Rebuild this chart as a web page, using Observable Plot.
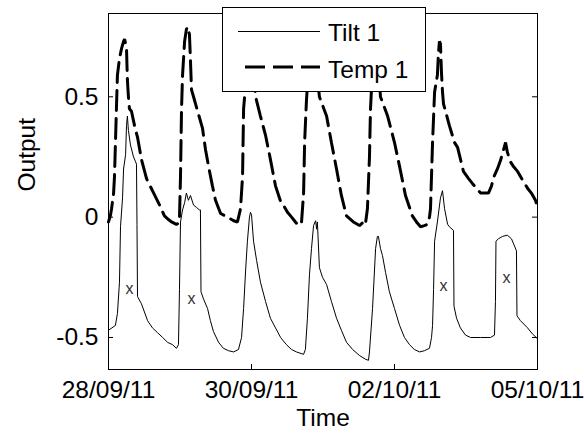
<!DOCTYPE html>
<html>
<head>
<meta charset="utf-8">
<script src="https://cdn.jsdelivr.net/npm/d3@7"></script>
<script src="https://cdn.jsdelivr.net/npm/@observablehq/plot@0.6"></script>
<style>
  html, body { margin: 0; padding: 0; background: white; }
  svg { display: block; }
</style>
</head>
<body>
<div id="chart"></div>
<script>
// Time axis: hours since 28/09/11 00:00
const startDate = Date.UTC(2011, 8, 28);
const spanDays = 7;
const xTickDays = [0, 7 / 3, 14 / 3, 7];          // 28/09/11, 30/09/11, 02/10/11, 05/10/11
const yTickValues = [-0.5, 0, 0.5];
const yDomain = [-0.633, 0.846];
const seriesNames = ["Tilt 1", "Temp 1"];

// Tilt 1 (solid)
const tiltHours = [0, 2.7, 3.5, 4.3, 4.7, 5.5, 5.9, 6.7, 7.05, 7.4, 7.8, 8.6, 9.8, 10.6, 10.96, 11.16, 11.36, 12.9, 15.3, 17.2, 19.2, 21.2, 23.1, 25.1, 26.6, 27.4, 27.8, 28.2, 29.0, 29.8, 30.5, 31.3, 32.1, 33.3, 34.5, 35.6, 36.0, 36.22, 37.2, 38.8, 39.9, 41.1, 43.1, 45.0, 47.0, 49.0, 50.9, 52.1, 52.9, 53.7, 54.4, 55.2, 55.6, 56.0, 56.8, 58.0, 59.5, 61.5, 63.4, 65.4, 67.4, 69.7, 71.7, 73.6, 76.4, 77.1, 77.9, 78.7, 79.5, 80.3, 81.1, 81.5, 81.8, 82.6, 83.8, 85.4, 87.3, 89.3, 91.2, 93.2, 95.6, 98.3, 100.6, 101.8, 102.2, 103.4, 104.6, 105.3, 105.7, 106.5, 107.3, 108.5, 110.0, 112.0, 114.0, 115.9, 117.9, 119.8, 121.8, 123.7, 125.7, 126.5, 126.9, 127.3, 127.7, 128.8, 130.0, 130.8, 131.6, 132.8, 133.5, 135.1, 135.3, 136.3, 137.8, 139.8, 141.8, 145.7, 149.6, 151.15, 151.54, 151.74, 152.7, 154.3, 156.2, 157.8, 159.0, 159.76, 159.96, 161.3, 164.1, 166.0, 168.0];
const tiltValues = [-0.47, -0.45, -0.40, -0.27, -0.04, 0.08, 0.20, 0.26, 0.38, 0.42, 0.36, 0.30, 0.25, 0.23, 0.22, -0.03, -0.33, -0.36, -0.43, -0.46, -0.48, -0.50, -0.52, -0.53, -0.545, -0.53, -0.30, -0.02, 0.03, 0.06, 0.10, 0.07, 0.09, 0.05, 0.04, 0.03, 0.03, -0.31, -0.34, -0.38, -0.43, -0.475, -0.52, -0.545, -0.555, -0.56, -0.55, -0.50, -0.38, -0.22, -0.10, 0.00, 0.02, 0.01, -0.10, -0.18, -0.27, -0.35, -0.42, -0.46, -0.50, -0.53, -0.55, -0.56, -0.57, -0.55, -0.42, -0.24, -0.13, -0.035, -0.015, -0.05, -0.02, -0.21, -0.25, -0.28, -0.35, -0.42, -0.47, -0.52, -0.55, -0.575, -0.59, -0.595, -0.56, -0.38, -0.13, -0.08, -0.08, -0.13, -0.16, -0.23, -0.31, -0.38, -0.45, -0.50, -0.53, -0.55, -0.56, -0.555, -0.545, -0.50, -0.45, -0.30, -0.10, -0.02, 0.08, 0.11, 0.035, -0.03, -0.04, -0.055, -0.37, -0.42, -0.46, -0.49, -0.50, -0.50, -0.50, -0.49, -0.35, -0.10, -0.09, -0.08, -0.075, -0.09, -0.12, -0.14, -0.41, -0.43, -0.46, -0.485, -0.505];

// Temp 1 (dashed)
const tempHours = [0, 0.8, 1.2, 2.0, 2.35, 2.7, 3.1, 3.5, 4.3, 5.1, 5.9, 6.3, 6.7, 7.05, 7.4, 7.8, 8.2, 9.0, 10.2, 11.4, 12.9, 14.9, 17.2, 20.0, 21.9, 23.5, 24.7, 26.6, 27.4, 27.8, 28.2, 28.6, 29.0, 29.8, 30.5, 30.9, 31.7, 32.1, 32.5, 33.3, 34.9, 36.8, 38.0, 39.2, 40.7, 41.9, 43.9, 46.6, 49.0, 50.5, 51.7, 52.5, 52.9, 53.7, 54.4, 55.2, 56.0, 56.8, 57.6, 59.5, 61.5, 63.4, 65.4, 67.4, 68.5, 70.1, 71.7, 73.2, 74.4, 75.6, 76.4, 76.8, 77.5, 78.3, 79.1, 79.9, 80.7, 81.5, 82.6, 85.4, 87.3, 89.3, 91.2, 93.2, 95.9, 98.3, 99.9, 100.6, 101.4, 102.2, 102.6, 103.4, 104.2, 104.9, 105.7, 106.5, 109.3, 112.0, 114.0, 116.3, 119.0, 120.6, 122.2, 123.7, 124.9, 125.7, 126.1, 126.9, 127.7, 128.8, 129.2, 129.6, 130.0, 130.4, 130.8, 131.2, 132.0, 133.5, 135.5, 136.7, 139.0, 141.0, 142.5, 144.1, 145.7, 147.2, 148.8, 150.0, 150.8, 152.3, 153.5, 154.7, 155.5, 156.2, 157.4, 158.6, 160.2, 162.1, 164.1, 165.6, 167.2, 168.0];
const tempValues = [-0.02, 0.01, 0.035, 0.10, 0.17, 0.30, 0.45, 0.59, 0.66, 0.70, 0.73, 0.74, 0.72, 0.70, 0.57, 0.50, 0.45, 0.44, 0.38, 0.33, 0.24, 0.16, 0.11, 0.05, 0.005, -0.01, -0.02, -0.03, -0.025, 0.00, 0.17, 0.45, 0.59, 0.73, 0.78, 0.79, 0.76, 0.65, 0.53, 0.50, 0.44, 0.37, 0.28, 0.21, 0.13, 0.07, 0.015, 0.00, -0.015, -0.02, 0.035, 0.17, 0.45, 0.55, 0.68, 0.74, 0.72, 0.62, 0.50, 0.42, 0.34, 0.24, 0.13, 0.065, 0.05, 0.02, 0.00, -0.02, -0.035, -0.02, 0.10, 0.31, 0.48, 0.62, 0.72, 0.74, 0.70, 0.62, 0.50, 0.42, 0.31, 0.20, 0.09, 0.005, -0.02, -0.035, -0.02, -0.03, 0.035, 0.25, 0.45, 0.62, 0.72, 0.74, 0.65, 0.50, 0.42, 0.31, 0.21, 0.09, 0.005, -0.02, -0.04, -0.035, -0.03, 0.00, 0.035, 0.31, 0.52, 0.59, 0.68, 0.73, 0.72, 0.60, 0.52, 0.47, 0.44, 0.38, 0.31, 0.29, 0.19, 0.16, 0.14, 0.12, 0.10, 0.10, 0.10, 0.13, 0.165, 0.20, 0.235, 0.28, 0.31, 0.27, 0.23, 0.21, 0.19, 0.155, 0.12, 0.10, 0.07, 0.04];

// "x" annotations
const markHours = [8.2, 32.5, 131.2, 155.9];
const markValues = [-0.297, -0.338, -0.284, -0.251];
const markText = "x";

const toDate = h => new Date(startDate + h * 3600000);
const tilt = tiltHours.map((h, i) => ({t: toDate(h), v: tiltValues[i]}));
const temp = tempHours.map((h, i) => ({t: toDate(h), v: tempValues[i]}));
const marks = markHours.map((h, i) => ({t: toDate(h), v: markValues[i]}));
const xTicks = xTickDays.map(d => new Date(startDate + d * 86400000));

const FONT = "'Liberation Sans', Arial, Helvetica, sans-serif";
const W = 584, H = 435;
const mL = 108, mR = 47, mT = 13, mB = 66;
const plotW = W - mL - mR, plotH = H - mT - mB;

const svg = Plot.plot({
  width: W, height: H,
  marginLeft: mL, marginRight: mR, marginTop: mT, marginBottom: mB,
  style: {fontFamily: FONT, fontSize: "24.5px", background: "white", color: "black"},
  x: {type: "utc", domain: [new Date(startDate), new Date(startDate + spanDays * 86400000)]},
  y: {domain: yDomain},
  marks: [
    Plot.line(tilt, {x: "t", y: "v", stroke: "black", strokeWidth: 1}),
    Plot.line(temp, {x: "t", y: "v", stroke: "black", strokeWidth: 3, strokeDasharray: "20,8", strokeLinejoin: "miter"}),
    Plot.text(marks, {x: "t", y: "v", text: () => markText, fontSize: 16, fill: "#333", fontFamily: FONT}),
    Plot.frame({stroke: "black", strokeWidth: 1}),
    Plot.tickX(xTicks, {x: d => d, insetTop: plotH - 5, stroke: "black"}),
    Plot.tickX(xTicks, {x: d => d, insetBottom: plotH - 5, stroke: "black"}),
    Plot.tickY(yTickValues, {y: d => d, insetRight: plotW - 5, stroke: "black"}),
    Plot.tickY(yTickValues, {y: d => d, insetLeft: plotW - 5, stroke: "black"}),
    Plot.axisX(xTicks, {tickSize: 0, tickPadding: 11, tickFormat: d3.utcFormat("%d/%m/%y"), label: null, fontSize: 24.5, fontFamily: FONT}),
    Plot.axisY(yTickValues, {tickSize: 0, tickPadding: 10, tickFormat: d => String(d), label: null, fontSize: 24.5, fontFamily: FONT}),
    Plot.text(["Time"], {frameAnchor: "bottom", dy: 56, text: d => d, fontSize: 24.5, fontFamily: FONT}),
    Plot.text(["Output"], {frameAnchor: "left", dx: -81, rotate: -90, text: d => d, fontSize: 24.5, fontFamily: FONT})
  ]
});

// Legend box (drawn over the data, like MATLAB's)
const g = d3.select(svg).append("g")
  .attr("font-family", FONT).attr("font-size", 24.5).attr("text-anchor", "start");
g.append("rect").attr("x", 222.5).attr("y", 7.5).attr("width", 203).attr("height", 84)
  .attr("fill", "white").attr("stroke", "black").attr("stroke-width", 1);
g.append("line").attr("x1", 238).attr("x2", 320).attr("y1", 31.5).attr("y2", 31.5)
  .attr("stroke", "black").attr("stroke-width", 1);
g.append("line").attr("x1", 245).attr("x2", 320).attr("y1", 67).attr("y2", 67)
  .attr("stroke", "black").attr("stroke-width", 3).attr("stroke-dasharray", "20,8");
g.append("text").attr("x", 328).attr("y", 41).attr("text-anchor", "start").attr("fill", "black").text(seriesNames[0]);
g.append("text").attr("x", 328).attr("y", 78).attr("text-anchor", "start").attr("fill", "black").text(seriesNames[1]);

document.getElementById("chart").appendChild(svg);
</script>
</body>
</html>
